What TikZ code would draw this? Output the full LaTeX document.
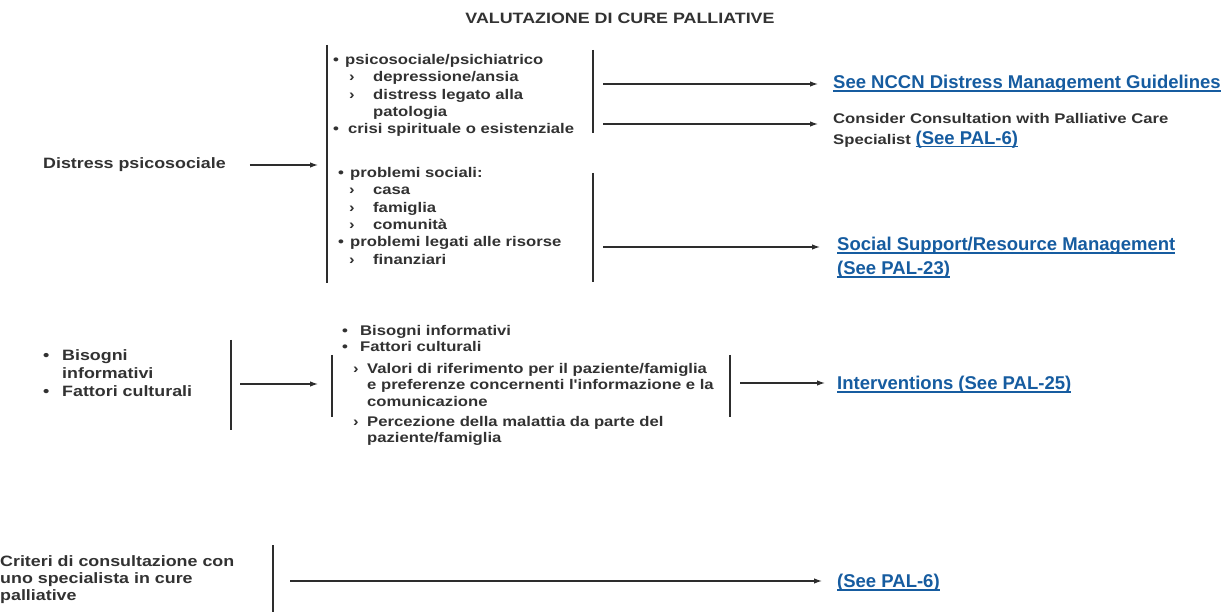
\documentclass[tikz,border=0pt]{standalone}
\usepackage{fontspec}
\setmainfont{Liberation Sans}
\newfontfamily\gfont[FakeStretch=1.19]{Liberation Sans}
\usetikzlibrary{arrows.meta}
\definecolor{gtxt}{RGB}{50,50,50}
\definecolor{lnk}{RGB}{22,92,160}
\definecolor{ln}{RGB}{45,45,45}
\newcommand{\lk}[1]{{\setbox0=\hbox{#1}\rlap{\rule[-3pt]{\wd0}{1.3pt}}\box0}}
\tikzset{
 gtext/.style={font=\gfont\bfseries\fontsize{15}{17.5}\selectfont, text=gtxt, inner sep=0pt, align=left},
 gsmall/.style={font=\gfont\bfseries\fontsize{14}{17.4}\selectfont, text=gtxt, inner sep=0pt, align=left},
 btext/.style={font=\bfseries\fontsize{18.5}{24}\selectfont, text=lnk, inner sep=0pt, align=left},
 bar/.style={draw=ln, line width=1.3pt},
 arr/.style={draw=ln, line width=1.2pt, -{Latex[length=8pt,width=5.5pt]}},
}
\begin{document}
\begin{tikzpicture}[x=1pt,y=-1pt]
\useasboundingbox[fill=white] (0,0) rectangle (1224,612);

% title
\node[gtext, anchor=center] (title) at (620,18) {VALUTAZIONE DI CURE PALLIATIVE};

% ---------- section 1
\node[gtext, anchor=west] (distress) at (43,165) {Distress psicosociale};

\coordinate (L1a) at (327,45); \coordinate (L1b) at (327,283);
\coordinate (R1a) at (593,50); \coordinate (R1b) at (593,133);
\coordinate (R2a) at (593,173); \coordinate (R2b) at (593,282);
\draw[bar] (L1a) -- (L1b);
\draw[bar] (R1a) -- (R1b);
\draw[bar] (R2a) -- (R2b);

\node[gsmall, anchor=north west] (list1) at (333,54) {%
\makebox[12pt][l]{•}psicosociale/psichiatrico\\
\hspace*{16pt}\makebox[24pt][l]{›}depressione/ansia\\
\hspace*{16pt}\makebox[24pt][l]{›}distress legato alla\\
\hspace*{40pt}patologia\\
\makebox[15pt][l]{•}crisi spirituale o esistenziale};

\node[gsmall, anchor=north west] (list2) at (338,167) {%
\makebox[12pt][l]{•}problemi sociali:\\
\hspace*{11pt}\makebox[24pt][l]{›}casa\\
\hspace*{11pt}\makebox[24pt][l]{›}famiglia\\
\hspace*{11pt}\makebox[24pt][l]{›}comunità\\
\makebox[12pt][l]{•}problemi legati alle risorse\\
\hspace*{11pt}\makebox[24pt][l]{›}finanziari};

\draw[arr, shorten <=24pt, shorten >=9pt] (distress.east) -- (distress.east -| L1a);

\node[btext, anchor=base west] (nccn) at (833,88.6) {\lk{See NCCN Distress Management Guidelines}};
\node[gsmall, anchor=north west, font=\gfont\bfseries\fontsize{14}{21}\selectfont] (consider) at (833,113) {Consider Consultation with Palliative Care\\
Specialist {\normalfont\bfseries\fontsize{18.5}{21}\selectfont\color{lnk}\lk{(See PAL-6)}}};
\node[btext, anchor=north west] (social) at (837,237) {\lk{Social Support/Resource Management}\\\lk{(See PAL-23)}};

\coordinate (a1) at (593,84);
\coordinate (a2) at (593,124);
\coordinate (a3) at (593,247);
\draw[arr, shorten <=10pt, shorten >=15pt] (a1) -- (a1 -| nccn.west);
\draw[arr, shorten <=10pt, shorten >=15pt] (a2) -- (a2 -| consider.west);
\draw[arr, shorten <=10pt, shorten >=17pt] (a3) -- (a3 -| social.west);

% ---------- section 2
\node[gtext, anchor=north west, font=\gfont\bfseries\fontsize{15}{18}\selectfont] (info) at (43,349) {%
\makebox[19pt][l]{•}Bisogni\\
\hspace*{19pt}informativi\\
\makebox[19pt][l]{•}Fattori culturali};

\coordinate (L2a) at (231,340); \coordinate (L2b) at (231,430);
\coordinate (M1a) at (332,355); \coordinate (M1b) at (332,417);
\coordinate (M2a) at (730,355); \coordinate (M2b) at (730,417);
\draw[bar] (L2a) -- (L2b);
\draw[bar] (M1a) -- (M1b);
\draw[bar] (M2a) -- (M2b);

\node[gsmall, anchor=north west, font=\gfont\bfseries\fontsize{14}{16.5}\selectfont] (list3) at (342,325) {%
\makebox[18pt][l]{•}Bisogni informativi\\
\makebox[18pt][l]{•}Fattori culturali\\[5pt]
\hspace*{11pt}\makebox[14pt][l]{›}Valori di riferimento per il paziente/famiglia\\
\hspace*{25pt}e preferenze concernenti l'informazione e la\\
\hspace*{25pt}comunicazione\\[3.5pt]
\hspace*{11pt}\makebox[14pt][l]{›}Percezione della malattia da parte del\\
\hspace*{25pt}paziente/famiglia};

\node[btext, anchor=base west] (interv) at (837,389.6) {\lk{Interventions (See PAL-25)}};

\coordinate (b1) at (231,384);
\coordinate (b2) at (730,383);
\draw[arr, shorten <=9pt, shorten >=14pt] (b1) -- (b1 -| M1a);
\draw[arr, shorten <=10pt, shorten >=12pt] (b2) -- (b2 -| interv.west);

% ---------- section 3
\node[gtext, anchor=north west, font=\gfont\bfseries\fontsize{15}{17}\selectfont] (crit) at (0,555) {%
Criteri di consultazione con\\uno specialista in cure\\palliative};

\coordinate (L3a) at (273,545); \coordinate (L3b) at (273,612);
\draw[bar] (L3a) -- (L3b);

\node[btext, anchor=base west] (pal6) at (837,587.6) {\lk{(See PAL-6)}};
\coordinate (c1) at (273,581);
\draw[arr, shorten <=17pt, shorten >=15pt] (c1) -- (c1 -| pal6.west);
\end{tikzpicture}
\end{document}
